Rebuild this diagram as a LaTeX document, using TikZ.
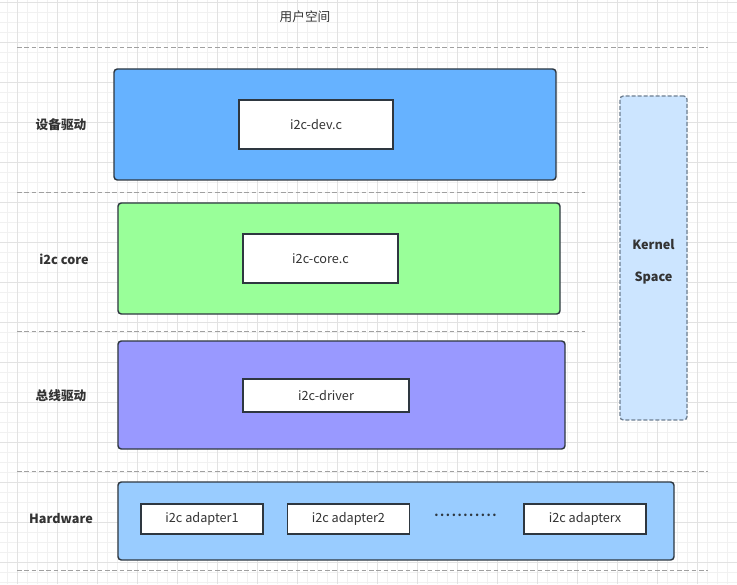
\documentclass[tikz,border=0pt]{standalone}
\usepackage{fontspec}
\setmainfont{Noto Sans CJK SC}
\usepackage{tikz}
\usetikzlibrary{positioning}
\definecolor{edgedark}{HTML}{2E3740}
\definecolor{devblue}{HTML}{66B2FF}
\definecolor{coregreen}{HTML}{99FF99}
\definecolor{buspurple}{HTML}{9999FF}
\definecolor{hwblue}{HTML}{99CCFF}
\definecolor{kernelblue}{HTML}{CCE5FF}
\definecolor{kerneledge}{HTML}{6E7F91}
\definecolor{sepgray}{HTML}{A0A0A0}
\definecolor{gridminor}{HTML}{F1F1F1}
\definecolor{gridmajor}{HTML}{E2E2E2}
\definecolor{textdark}{HTML}{333333}
\tikzset{
    layerbox/.style={draw=edgedark, line width=1.1pt, rounded corners=2.5pt, inner sep=0pt},
    filebox/.style={draw=edgedark, line width=1.1pt, fill=white, inner sep=0pt, font=\fontsize{9.5}{11}\selectfont, text=textdark},
    layerlabel/.style={font=\bfseries\fontsize{9.5}{11}\selectfont, text=textdark},
    sepline/.style={draw=sepgray, dash pattern=on 3.5pt off 2pt, line width=0.6pt},
    kernelbox/.style={draw=kerneledge, fill=kernelblue, dash pattern=on 3pt off 1.5pt, line width=1pt, rounded corners=2.5pt, inner sep=0pt, align=center, font=\bfseries\fontsize{9.5}{24}\selectfont, text=textdark}
}
\begin{document}
\begin{tikzpicture}[x=0.75pt, y=-0.75pt, node distance=17.25pt]
    \useasboundingbox (0,0) rectangle (737,584);
    \fill[white] (0,0) rectangle (737,584);
    % background grid
    \foreach \gx in {7,17,...,737} \draw[gridminor, line width=0.4pt] (\gx,0) -- (\gx,584);
    \foreach \gy in {2,12,...,584} \draw[gridminor, line width=0.4pt] (0,\gy) -- (737,\gy);
    \foreach \gx in {17,57,...,737} \draw[gridmajor, line width=0.5pt] (\gx,0) -- (\gx,584);
    \foreach \gy in {2,42,...,584} \draw[gridmajor, line width=0.5pt] (0,\gy) -- (737,\gy);

    \node[font=\fontsize{9.5}{11}\selectfont, text=textdark] (userspace) at (305,17) {用户空间};

    % separators
    \draw[sepline] (17,47) -- (708,47);
    \draw[sepline] (17,192) -- (585,192);
    \draw[sepline] (17,331) -- (585,331);
    \draw[sepline] (17,471) -- (708,471);
    \draw[sepline] (17,570) -- (708,570);

    % layers
    \node[layerbox, fill=devblue, minimum width=331.5pt, minimum height=83.25pt] (devlayer) at (335,124.5) {};
    \node[filebox, minimum width=115.5pt, minimum height=36.75pt] (devfile) at (316,124.5) {i2c-dev.c};
    \node[layerlabel] (devlabel) at (61,125) {设备驱动};

    \node[layerbox, fill=coregreen, minimum width=331.5pt, minimum height=83.25pt] (corelayer) at (339,258.5) {};
    \node[filebox, minimum width=116.25pt, minimum height=36.75pt] (corefile) at (320.5,258.5) {i2c-core.c};
    \node[layerlabel] (corelabel) at (64,259) {i2c core};

    \node[layerbox, fill=buspurple, minimum width=335.25pt, minimum height=81pt] (buslayer) at (341.5,395) {};
    \node[filebox, minimum width=124.5pt, minimum height=24.75pt] (busfile) at (326,395.5) {i2c-driver};
    \node[layerlabel] (buslabel) at (61,396) {总线驱动};

    \node[layerbox, fill=hwblue, minimum width=417pt, minimum height=58.5pt] (hwlayer) at (396,521) {};
    \node[filebox, minimum width=91.5pt, minimum height=22.5pt] (adapterone) at (202,519) {i2c adapter1};
    \node[filebox, minimum width=91.5pt, minimum height=22.5pt, right=of adapterone] (adaptertwo) {i2c adapter2};
    \node[font=\bfseries\fontsize{9}{11}\selectfont, text=edgedark] (adapterdots) at (465.5,515) {.\kern1.2pt.\kern1.2pt.\kern1.2pt.\kern1.2pt.\kern1.2pt.\kern1.2pt.\kern1.2pt.\kern1.2pt.\kern1.2pt.\kern1.2pt.};
    \node[filebox, minimum width=91.5pt, minimum height=22.5pt] (adapterx) at (585,519) {i2c adapterx};
    \node[layerlabel] (hwlabel) at (61,519) {Hardware};

    % kernel space
    \node[kernelbox, minimum width=50.25pt, minimum height=243pt] (kernel) at (653.5,258) {\rule{0pt}{13pt}Kernel\\Space};
\end{tikzpicture}
\end{document}
